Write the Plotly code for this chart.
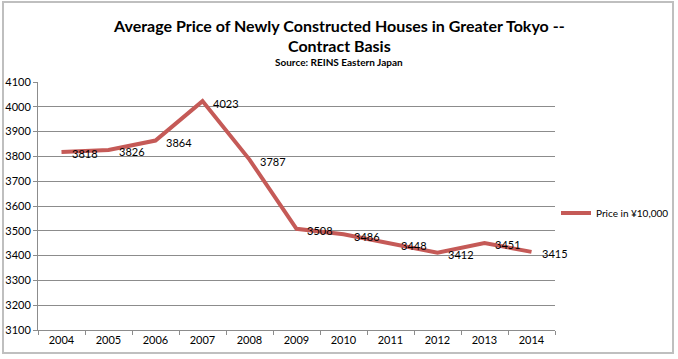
import plotly.graph_objects as go

years = ["2004", "2005", "2006", "2007", "2008", "2009", "2010", "2011", "2012", "2013", "2014"]
prices = [3818, 3826, 3864, 4023, 3787, 3508, 3486, 3448, 3412, 3451, 3415]
series_name = "Price in ¥10,000"
title_line1 = "Average Price of Newly Constructed Houses in Greater Tokyo --"
title_line2 = "Contract Basis"
title_sub = "Source: REINS Eastern Japan"

line_color = "#C55A57"
font_family = "Lato, Open Sans, sans-serif"

W, H = 678, 359
ML, MR, MT, MB = 38, 123, 82, 29
plot_h = H - MT - MB
plot_w = W - ML - MR

def py(p):
    return (H - MB - p) / plot_h

def px(p):
    return (p - ML) / plot_w

fig = go.Figure()
fig.add_trace(go.Scatter(
    x=years, y=prices, mode="lines", name=series_name,
    line=dict(color=line_color, width=4),
))

for i, v in enumerate(prices):
    fig.add_annotation(x=i, y=v, xref="x", yref="y", text=str(v), showarrow=False,
                       xanchor="left", yanchor="middle", xshift=8, yshift=-2,
                       font=dict(size=11, color="black", family=font_family))

fig.update_layout(
    width=W, height=H,
    margin=dict(l=ML, r=MR, t=MT, b=MB, autoexpand=False),
    paper_bgcolor="white", plot_bgcolor="white",
    font=dict(family=font_family, size=11, color="black"),
    showlegend=True,
    legend=dict(x=px(556), y=py(213), xanchor="left", yanchor="middle",
                font=dict(size=10, color="black"), bgcolor="rgba(0,0,0,0)",
                itemwidth=30),
    xaxis=dict(
        type="category", showline=True, linecolor="#8C8C8C", linewidth=1,
        ticks="outside", tickson="boundaries", ticklen=4, tickcolor="#8C8C8C",
        showgrid=False, tickfont=dict(size=11, color="black"),
        range=[-0.5, 10.5], automargin=False,
    ),
    yaxis=dict(
        range=[3100, 4100], dtick=100, showline=True, linecolor="#8C8C8C", linewidth=1,
        ticks="outside", ticklen=4, tickcolor="#8C8C8C",
        showgrid=True, gridcolor="#8C8C8C", gridwidth=1,
        tickfont=dict(size=11, color="black"), zeroline=False, automargin=False,
    ),
)

fig.add_annotation(text="<b>" + title_line1 + "</b>",
                   x=px(339), y=py(26), xref="paper", yref="paper",
                   xanchor="center", yanchor="middle", showarrow=False,
                   font=dict(size=16, color="black", family=font_family))
fig.add_annotation(text="<b>" + title_line2 + "</b>",
                   x=px(339), y=py(46), xref="paper", yref="paper",
                   xanchor="center", yanchor="middle", showarrow=False,
                   font=dict(size=16, color="black", family=font_family))
fig.add_annotation(text="<b>" + title_sub + "</b>",
                   x=px(339), y=py(62), xref="paper", yref="paper",
                   xanchor="center", yanchor="middle", showarrow=False,
                   font=dict(size=10, color="black", family=font_family))

fig.add_shape(type="rect", xref="paper", yref="paper",
              x0=px(3), x1=px(673), y0=py(353), y1=py(2),
              line=dict(color="#BFBFBF", width=2), layer="below")

fig.write_html("out.html", config={"displayModeBar": False},
               post_script="document.body.style.margin='0';document.body.style.overflow='hidden';")
